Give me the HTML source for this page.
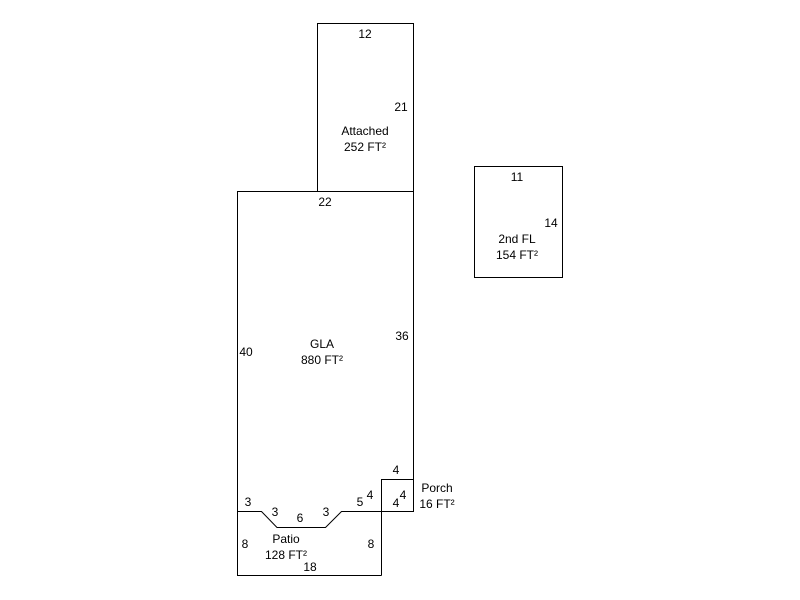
<!DOCTYPE html>
<html><head><meta charset="utf-8"><style>
html,body{margin:0;padding:0;background:#fff;}
svg{display:block}
text{font-family:"Liberation Sans",Arial,sans-serif;font-size:12px;fill:#000;text-anchor:middle}
</style></head><body>
<svg width="800" height="600" viewBox="0 0 800 600">
<g fill="none" stroke="#000" stroke-width="1" shape-rendering="crispEdges">
<rect x="317.5" y="23.5" width="96" height="168"/>
<rect x="474.5" y="166.5" width="88" height="111"/>
<polyline points="413.5,191.5 237.5,191.5 237.5,511.5"/>
<line x1="413.5" y1="191.5" x2="413.5" y2="479.5"/>
<rect x="381.5" y="479.5" width="32" height="32"/>
<line x1="381.5" y1="511.5" x2="381.5" y2="575.5"/>
<polyline points="237.5,511.5 237.5,575.5 381.5,575.5"/>
</g>
<polyline points="237.5,511.5 261.5,511.5 277,527.5 325.5,527.5 341.5,511.5 381.5,511.5" fill="none" stroke="#000" stroke-width="1"/>
<text x="365" y="38">12</text>
<text x="401" y="111">21</text>
<text x="365" y="135">Attached</text>
<text x="365" y="151">252 FT²</text>
<text x="325" y="206">22</text>
<text x="517" y="181">11</text>
<text x="551" y="227">14</text>
<text x="517" y="243">2nd FL</text>
<text x="517" y="259">154 FT²</text>
<text x="246" y="356">40</text>
<text x="402" y="340">36</text>
<text x="322" y="348">GLA</text>
<text x="322" y="364">880 FT²</text>
<text x="396" y="474">4</text>
<text x="437" y="492">Porch</text>
<text x="437" y="508">16 FT²</text>
<text x="403" y="499">4</text>
<text x="396" y="507">4</text>
<text x="370" y="499">4</text>
<text x="360" y="506">5</text>
<text x="248" y="506">3</text>
<text x="275" y="516">3</text>
<text x="300" y="522">6</text>
<text x="326" y="516">3</text>
<text x="245" y="548">8</text>
<text x="371" y="548">8</text>
<text x="286" y="543">Patio</text>
<text x="286" y="559">128 FT²</text>
<text x="310" y="571">18</text>
</svg>
</body></html>
